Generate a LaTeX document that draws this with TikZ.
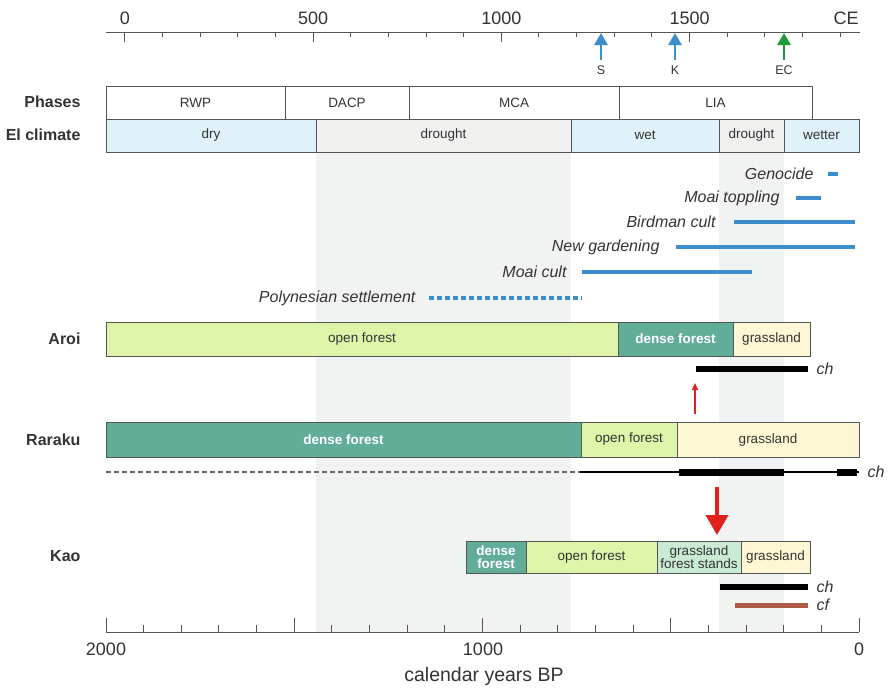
\documentclass[tikz,border=0pt]{standalone}
\usepackage{fontspec}
\setmainfont{Liberation Sans}
\usetikzlibrary{arrows.meta}
\definecolor{evblue}{HTML}{3B8ECB}
\definecolor{ecgreen}{HTML}{1F9A3B}
\definecolor{teal}{HTML}{62AD98}
\definecolor{openf}{HTML}{DEF4A8}
\definecolor{grassl}{HTML}{FFF7D4}
\definecolor{stands}{HTML}{C9EBD4}
\definecolor{climblue}{HTML}{DFF1F9}
\definecolor{climgray}{HTML}{F0F0EF}
\definecolor{bandgray}{HTML}{F1F2F2}
\definecolor{edge}{HTML}{555555}
\definecolor{txt}{HTML}{333333}
\definecolor{redarr}{HTML}{E0201C}
\definecolor{brown}{HTML}{B05B45}
\tikzset{
  segbox/.style={draw=edge,line width=0.9pt,inner sep=0pt,outer sep=0pt,text=txt,align=center,font=\fontsize{13.5}{14}\selectfont},
  rowlabel/.style={anchor=east,font=\bfseries\fontsize{16}{18}\selectfont,text=txt},
  evlabel/.style={anchor=east,font=\itshape\fontsize{16}{18}\selectfont,text=txt},
  evbar/.style={evblue,line width=4.5pt},
  chbar/.style={black,line width=6pt},
  axislabel/.style={font=\fontsize{18}{20}\selectfont,text=txt},
  smalllabel/.style={font=\fontsize{12.5}{14}\selectfont,text=txt},
  upmark/.style={line width=2.8pt,-{Triangle[length=12pt,width=13pt]}},
}
\newcommand\seg[7]{\node[segbox,#6,minimum width={(#3-#2)*1pt},minimum height={(#5-#4)*1pt}] (#1) at ({(#2+#3)/2},{(#4+#5)/2}) {#7};}
\begin{document}
\begin{tikzpicture}[x=1pt,y=-1pt]
\useasboundingbox (0,0) rectangle (888,689);
% background bands
\fill[bandgray] (316,152) rectangle (571,632);
\fill[bandgray] (719,152) rectangle (784,632);
% top axis (CE)
\coordinate (topL) at (106,32);
\coordinate (topR) at (860,32);
\draw[edge,line width=1pt] (topL) -- (topR);
\foreach \ce in {0,100,...,1900}{
  \pgfmathsetmacro\xx{859-0.3765*(1950-\ce)}
  \pgfmathsetmacro\len{ifthenelse(mod(\ce,500)==0,10,5)}
  \draw[edge,line width=1pt] (\xx,32) -- (\xx,32+\len);
}
\foreach \ce/\lab in {0/0,500/500,1000/1000,1500/1500}{
  \pgfmathsetmacro\xx{859-0.3765*(1950-\ce)}
  \node[axislabel] (ce\ce) at (\xx,18) {\lab};
}
\node[axislabel] (ceunit) at (846,18) {CE};
% contact arrows
\node[smalllabel] (lS) at (601,70) {S};
\node[smalllabel] (lK) at (675,70) {K};
\node[smalllabel] (lEC) at (784,70) {EC};
\coordinate (aS) at (601,33);
\coordinate (aK) at (675,33);
\coordinate (aEC) at (784,33);
\draw[upmark,evblue] (lS.north) ++(0,-2) -- (aS);
\draw[upmark,evblue] (lK.north) ++(0,-2) -- (aK);
\draw[upmark,ecgreen] (lEC.north) ++(0,-2) -- (aEC);
% phases
\node[rowlabel] (phlab) at (84,102) {Phases};
\seg{rwp}{106}{285}{86}{119}{fill=white}{RWP}
\seg{dacp}{285}{409}{86}{119}{fill=white}{DACP}
\seg{mca}{409}{619}{86}{119}{fill=white}{MCA}
\seg{lia}{619}{812}{86}{119}{fill=white}{LIA}
% climate
\node[rowlabel] (cllab) at (84,135) {El climate};
\seg{dry}{106}{316}{119}{152}{fill=climblue}{dry}
\seg{drought1}{316}{571}{119}{152}{fill=climgray}{drought}
\seg{wet}{571}{719}{119}{152}{fill=climblue}{wet}
\seg{drought2}{719}{784}{119}{152}{fill=climgray}{drought}
\seg{wetter}{784}{859}{119}{152}{fill=climblue}{wetter}
% events
\node[evlabel] (geno) at (817,174) {Genocide};
\draw[evbar] (828,174) -- (838,174);
\node[evlabel] (topp) at (783,198) {Moai toppling};
\draw[evbar] (796,198) -- (821,198);
\node[evlabel] (bird) at (719,222) {Birdman cult};
\draw[evbar] (734,222) -- (855,222);
\node[evlabel] (gard) at (663,247) {New gardening};
\draw[evbar] (676,247) -- (855,247);
\node[evlabel] (moai) at (570,272) {Moai cult};
\draw[evbar] (582,272) -- (752,272);
\node[evlabel] (poly) at (419,298) {Polynesian settlement};
\draw[evblue,line width=4.5pt,dash pattern=on 4.5pt off 3.5pt] (429,298) -- (582,298);
% Aroi
\node[rowlabel] (aroilab) at (84,339) {Aroi};
\seg{aroiA}{106}{618}{322}{356}{fill=openf}{open forest}
\seg{aroiB}{618}{733}{322}{356}{fill=teal,text=white,font=\bfseries\fontsize{13.5}{14}\selectfont}{dense forest}
\seg{aroiC}{733}{810}{322}{356}{fill=grassl}{grassland}
\draw[chbar] (696,369) -- (808,369);
\node[evlabel,anchor=west] (aroich) at (813,369) {ch};
\coordinate (thinS) at (695,414);
\coordinate (thinE) at (695,383);
\draw[redarr,line width=1.2pt,-{Triangle[length=7pt,width=6pt]}] (thinS) -- (thinE);
% Raraku
\node[rowlabel] (rarlab) at (84,440) {Raraku};
\seg{rarA}{106}{581}{422}{457}{fill=teal,text=white,font=\bfseries\fontsize{13.5}{14}\selectfont}{dense forest}
\seg{rarB}{581}{677}{422}{457}{fill=openf}{open forest}
\seg{rarC}{677}{859}{422}{457}{fill=grassl}{grassland}
\draw[black!60,line width=1.5pt,dash pattern=on 5pt off 3pt] (106,472) -- (580,472);
\draw[black,line width=2pt] (580,472) -- (859,472);
\draw[black,line width=7pt] (679,472) -- (784,472);
\draw[black,line width=7pt] (837,472) -- (857,472);
\node[evlabel,anchor=west] (rarch) at (864,472) {ch};
\coordinate (bigS) at (717,487);
\coordinate (bigE) at (717,535);
\draw[redarr,line width=4pt,-{Triangle[length=20pt,width=22pt]}] (bigS) -- (bigE);
% Kao
\node[rowlabel] (kaolab) at (84,556) {Kao};
\seg{kaoA}{466}{526}{541}{573}{fill=teal,text=white,font=\bfseries\fontsize{13.5}{13}\selectfont}{dense\\forest}
\seg{kaoB}{526}{657}{541}{573}{fill=openf}{open forest}
\seg{kaoC}{657}{741}{541}{573}{fill=stands,font=\fontsize{13.5}{13}\selectfont}{grassland\\forest stands}
\seg{kaoD}{741}{810}{541}{573}{fill=grassl}{grassland}
\draw[chbar] (720,587) -- (808,587);
\node[evlabel,anchor=west] (kaoch) at (813,587) {ch};
\draw[brown,line width=5pt] (735,605) -- (808,605);
\node[evlabel,anchor=west] (kaocf) at (813,605) {cf};
% bottom axis (BP)
\coordinate (botL) at (106,632);
\coordinate (botR) at (859,632);
\draw[edge,line width=1pt] (botL) -- (botR);
\foreach \bp in {0,100,...,2000}{
  \pgfmathsetmacro\xx{859-0.3765*\bp}
  \pgfmathsetmacro\len{ifthenelse(mod(\bp,500)==0,14,7)}
  \draw[edge,line width=1pt] (\xx,632) -- (\xx,632-\len);
}
\node[axislabel] (bp2000) at (106,649) {2000};
\node[axislabel] (bp1000) at (483,649) {1000};
\node[axislabel] (bp0) at (859,649) {0};
\node[font=\fontsize{19.5}{21}\selectfont,text=txt] (bpunit) at (484,676) {calendar years BP};
\end{tikzpicture}
\end{document}
